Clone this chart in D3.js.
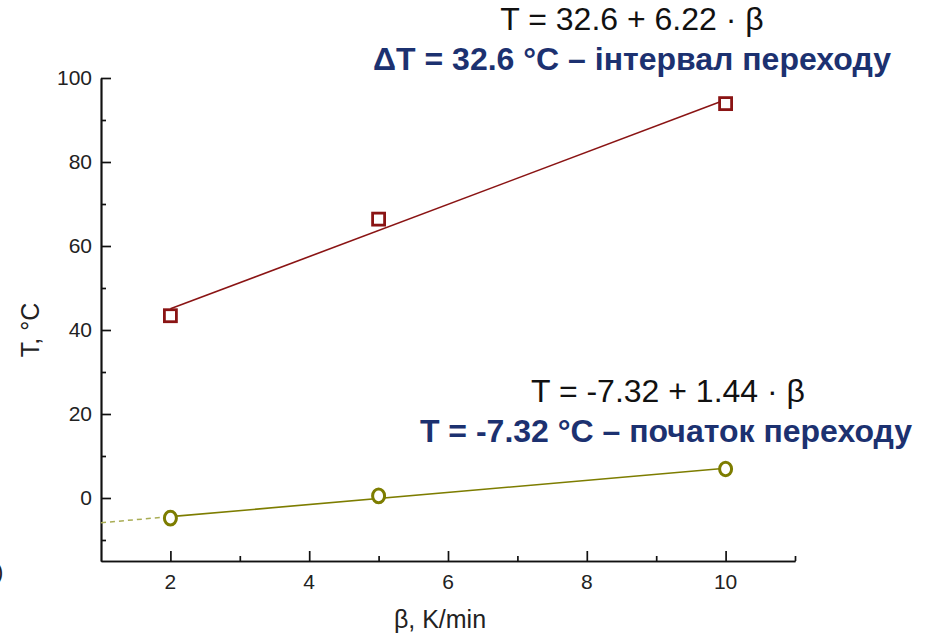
<!DOCTYPE html>
<html>
<head>
<meta charset="utf-8">
<script src="https://cdn.jsdelivr.net/npm/d3@7"></script>
<style>
  body { margin: 0; background: #fff; }
  svg { font-family: "Liberation Sans", Arial, sans-serif; }
</style>
</head>
<body>
<div id="chart_box"></div>
<script>
// data
var beta = [2, 5, 10];
var intervalT = [43.4, 66.4, 93.9];   // squares
var onsetT = [-4.8, 0.5, 6.9];        // circles
var intervalFit = {a: 32.6, b: 6.22};
var onsetFit = {a: -7.32, b: 1.44};
var xMajor = [2, 4, 6, 8, 10];
var xMinor = [3, 5, 7, 9, 11];
var yMajor = [0, 20, 40, 60, 80, 100];
var yMinor = [-10, 10, 30, 50, 70, 90];
var eqText = ["T = 32.6 + 6.22 \u00b7 \u03b2", "T = -7.32 + 1.44 \u00b7 \u03b2"];
var noteText = ["\u0394T = 32.6 \u00b0C \u2013 \u0456\u043d\u0442\u0435\u0440\u0432\u0430\u043b \u043f\u0435\u0440\u0435\u0445\u043e\u0434\u0443",
                "T = -7.32 \u00b0C \u2013 \u043f\u043e\u0447\u0430\u0442\u043e\u043a \u043f\u0435\u0440\u0435\u0445\u043e\u0434\u0443"];

var width = 940, height = 638;
var red = "#8a1414", olive = "#7d7d00", navy = "#1c3170";

var svg = d3.select("#chart_box").append("svg")
    .attr("width", width)
    .attr("height", height);

var x = d3.scaleLinear().domain([1, 11]).range([101, 795]);
var y = d3.scaleLinear().domain([-15, 100]).range([561, 78]);

// axes: inside ticks, minor ones shorter, labels drawn separately
var xAxis = svg.append("g").attr("transform", "translate(0," + y(-15) + ")");
xAxis.call(d3.axisBottom(x).tickValues(xMajor).tickSize(-10).tickFormat("").tickSizeOuter(0));
xAxis.append("g").call(d3.axisBottom(x).tickValues(xMinor).tickSize(-5).tickFormat("").tickSizeOuter(0));

var yAxis = svg.append("g").attr("transform", "translate(" + x(1) + ",0)");
yAxis.call(d3.axisLeft(y).tickValues(yMajor).tickSize(-10).tickFormat("").tickSizeOuter(0));
yAxis.append("g").call(d3.axisLeft(y).tickValues(yMinor).tickSize(-5).tickFormat("").tickSizeOuter(0));

svg.selectAll("g path, g line").attr("stroke", "#111").attr("stroke-width", 1.7);

svg.append("g").selectAll("text").data(xMajor).enter().append("text")
    .attr("x", function(d){ return x(d); })
    .attr("y", y(-15) + 28)
    .attr("text-anchor", "middle")
    .style("font-size", "21px").attr("fill", "#222")
    .text(function(d){ return d; });

svg.append("g").selectAll("text").data(yMajor).enter().append("text")
    .attr("x", x(1) - 9)
    .attr("y", function(d){ return y(d) + 7; })
    .attr("text-anchor", "end")
    .style("font-size", "21px").attr("fill", "#222")
    .text(function(d){ return d; });

// axis titles
svg.append("text")
    .attr("transform", "translate(39,330) rotate(-90)")
    .attr("text-anchor", "middle")
    .style("font-size", "25px").attr("fill", "#222")
    .text("T, \u00b0C");
svg.append("text")
    .attr("x", 440).attr("y", 628)
    .attr("text-anchor", "middle")
    .style("font-size", "25px").attr("fill", "#222")
    .text("\u03b2, K/min");
svg.append("text")
    .attr("x", -4).attr("y", 579)
    .style("font-size", "22px").attr("fill", "#222")
    .text(")");

// fit lines
var fitLine = d3.line().x(function(d){ return x(d[0]); }).y(function(d){ return y(d[1]); });
function fitPts(f, x0, x1) { return [[x0, f.a + f.b * x0], [x1, f.a + f.b * x1]]; }

svg.append("path").attr("d", fitLine(fitPts(intervalFit, 2, 10)))
    .attr("stroke", red).attr("stroke-width", 1.6).attr("fill", "none");
svg.append("path").attr("d", fitLine(fitPts(onsetFit, 2, 10)))
    .attr("stroke", olive).attr("stroke-width", 1.6).attr("fill", "none");
svg.append("path").attr("d", fitLine(fitPts(onsetFit, 1, 2)))
    .attr("stroke", "#a9ad55").attr("stroke-width", 1.5)
    .attr("stroke-dasharray", "5,4").attr("fill", "none");

// markers
svg.selectAll(".sq").data(beta).enter().append("rect")
    .attr("class", "sq")
    .attr("x", function(d){ return x(d) - 6; })
    .attr("y", function(d, i){ return y(intervalT[i]) - 6; })
    .attr("width", 12).attr("height", 12)
    .attr("fill", "#fff").attr("stroke", red).attr("stroke-width", 2.8);

svg.selectAll(".circ").data(beta).enter().append("ellipse")
    .attr("class", "circ")
    .attr("cx", function(d){ return x(d); })
    .attr("cy", function(d, i){ return y(onsetT[i]); })
    .attr("rx", 6).attr("ry", 6.8)
    .attr("fill", "#fff").attr("stroke", olive).attr("stroke-width", 3);

// equations
var eqPos = [[632, 30], [668, 402]];
eqText.forEach(function(t, i){
    svg.append("text")
        .attr("x", eqPos[i][0]).attr("y", eqPos[i][1])
        .attr("text-anchor", "middle")
        .style("font-size", "32px").attr("fill", "#111")
        .text(t);
});
var notePos = [[632, 70], [666, 442]];
noteText.forEach(function(t, i){
    svg.append("text")
        .attr("x", notePos[i][0]).attr("y", notePos[i][1])
        .attr("text-anchor", "middle")
        .style("font-size", "32px").style("font-weight", "bold").attr("fill", navy)
        .text(t);
});
</script>
</body>
</html>
